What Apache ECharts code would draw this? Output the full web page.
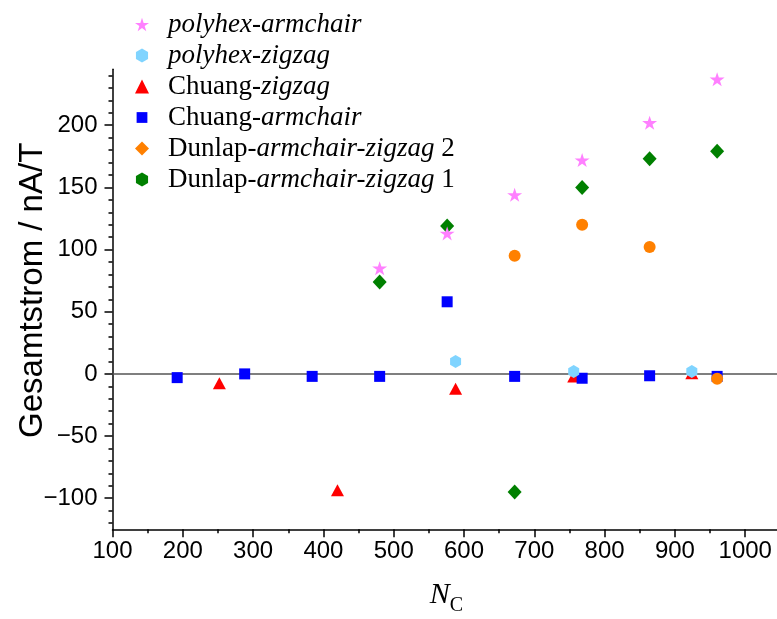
<!DOCTYPE html>
<html>
<head>
<meta charset="utf-8">
<script src="https://cdn.jsdelivr.net/npm/echarts@6/dist/echarts.min.js"></script>
<style>
  html, body { margin: 0; padding: 0; background: #fff; }
  #chart { width: 777px; height: 619px; }
</style>
</head>
<body>
<div id="chart"></div>
<script>
// Total current (nA/T) against number of carbon atoms N_C
const polyhexArmchair = [[480, 85], [576, 113], [672, 144], [768, 172], [864, 202], [960, 237]];
const polyhexZigzag   = [[588, 10], [756, 2], [924, 2]];
const chuangZigzag    = [[252, -7.5], [420, -93.5], [588, -12], [756, -2], [924, 0.5]];
const chuangArmchair  = [[192, -3], [288, 0], [384, -2], [480, -2], [576, 58], [672, -2], [768, -3.5], [864, -1.5], [960, -2]];
const dunlap2         = [[672, 95], [768, 120], [864, 102], [960, -4]];
const dunlap1         = [[480, 74], [576, 119], [672, -95], [768, 150], [864, 173], [960, 179]];

const yMajorTicks = [-100, -50, 0, 50, 100, 150, 200];
const yMinorTicks = [-120, -110, -90, -80, -70, -60, -40, -30, -20, -10, 10, 20, 30, 40,
                     60, 70, 80, 90, 110, 120, 130, 140, 160, 170, 180, 190, 210, 220, 230, 240];

// Marker shapes
const STAR = 'path://M0,-1 L0.2245,-0.309 L0.951,-0.309 L0.363,0.118 L0.588,0.809 L0,0.382 L-0.588,0.809 L-0.363,0.118 L-0.951,-0.309 L-0.2245,-0.309 Z';
const HEX = 'path://M0,-1 L0.866,-0.5 L0.866,0.5 L0,1 L-0.866,0.5 L-0.866,-0.5 Z';
const SMALL_SQUARE = 'path://M-1.3,-1.3 M1.3,1.3 M-1,-1 L1,-1 L1,1 L-1,1 Z';

const C = {
  pink: '#FF80FF', cyan: '#80D4FF', red: '#FF0000',
  blue: '#0000FF', orange: '#FF8000', green: '#008000'
};

const legendRich = {
  i: { fontFamily: 'Liberation Serif', fontStyle: 'italic', fontSize: 27, color: '#000' },
  r: { fontFamily: 'Liberation Serif', fontSize: 27, color: '#000' }
};
const legendLabel = {
  'polyhex-armchair': '{i|polyhex-armchair}',
  'polyhex-zigzag': '{i|polyhex-zigzag}',
  'Chuang-zigzag': '{r|Chuang-}{i|zigzag}',
  'Chuang-armchair': '{r|Chuang-}{i|armchair}',
  'Dunlap-armchair-zigzag 2': '{r|Dunlap-}{i|armchair-zigzag}{r| 2}',
  'Dunlap-armchair-zigzag 1': '{r|Dunlap-}{i|armchair-zigzag}{r| 1}'
};

// Plain numbers with a typographic minus sign
const tickText = v => String(v).replace('-', '\u2212');

const axisBlack = { color: '#000', width: 1.5 };

const chart = echarts.init(document.getElementById('chart'), null, { renderer: 'canvas' });

chart.setOption({
  animation: false,
  backgroundColor: '#fff',
  grid: { left: 112.5, top: 69.3, right: -3.4, bottom: 89.7, containLabel: false, outerBoundsMode: 'none' },
  legend: {
    orient: 'vertical',
    left: 130,
    top: 6,
    itemWidth: 14,
    itemHeight: 14,
    itemGap: 4,
    data: [
      { name: 'polyhex-armchair', icon: STAR },
      { name: 'polyhex-zigzag', icon: HEX },
      { name: 'Chuang-zigzag', icon: 'triangle' },
      { name: 'Chuang-armchair', icon: SMALL_SQUARE },
      { name: 'Dunlap-armchair-zigzag 2', icon: 'diamond' },
      { name: 'Dunlap-armchair-zigzag 1', icon: HEX }
    ],
    formatter: name => legendLabel[name],
    textStyle: { lineHeight: 27, padding: [0, 0, 0, 14], rich: legendRich }
  },
  xAxis: {
    type: 'value',
    min: 100, max: 1050, interval: 100,
    name: '{n|N}{c|C}',
    nameLocation: 'middle',
    nameGap: 51,
    nameMoveOverlap: false,
    nameTextStyle: {
      rich: {
        n: { fontFamily: 'Liberation Serif', fontStyle: 'italic', fontSize: 30, lineHeight: 30, color: '#000' },
        c: { fontFamily: 'Liberation Serif', fontSize: 20, lineHeight: 20, padding: [20, 0, 0, 0], color: '#000' }
      }
    },
    axisLine: { onZero: false, lineStyle: axisBlack },
    axisTick: { length: 8, lineStyle: axisBlack },
    minorTick: { show: true, splitNumber: 2, length: 4, lineStyle: axisBlack },
    axisLabel: { fontFamily: 'Liberation Sans', fontSize: 24, color: '#000', margin: 10, showMaxLabel: false, formatter: tickText },
    splitLine: { show: false }
  },
  yAxis: [
    {
      type: 'value',
      min: -125, max: 245,
      position: 'left',
      name: 'Gesamtstrom / nA/T',
      nameLocation: 'middle',
      nameGap: 63,
      nameMoveOverlap: false,
      nameTextStyle: { fontFamily: 'Liberation Sans', fontSize: 33, color: '#000', padding: [0, 0, 0, 18] },
      axisLine: { onZero: false, lineStyle: axisBlack },
      axisTick: { length: 8, lineStyle: axisBlack, customValues: yMajorTicks },
      axisLabel: { fontFamily: 'Liberation Sans', fontSize: 24, color: '#000', margin: 15, customValues: yMajorTicks, formatter: tickText },
      splitLine: { show: false }
    },
    {
      type: 'value',
      min: -125, max: 245,
      position: 'left',
      offset: 0,
      axisLine: { show: false, onZero: false },
      axisTick: { length: 4, lineStyle: axisBlack, customValues: yMinorTicks },
      axisLabel: { show: false },
      splitLine: { show: false }
    }
  ],
  series: [
    {
      name: 'Chuang-zigzag', type: 'scatter', data: chuangZigzag,
      symbol: 'triangle', symbolSize: [13, 12], itemStyle: { color: C.red, opacity: 1 },
      markLine: {
        silent: true, z: 1, symbol: 'none', label: { show: false },
        lineStyle: { color: '#555', width: 1.5, type: 'solid' },
        data: [{ yAxis: 0 }]
      }
    },
    {
      name: 'Chuang-armchair', type: 'scatter', data: chuangArmchair,
      symbol: 'rect', symbolSize: 11, itemStyle: { color: C.blue, opacity: 1 }
    },
    {
      name: 'Dunlap-armchair-zigzag 1', type: 'scatter', data: dunlap1,
      symbol: 'diamond', symbolSize: [14, 15], itemStyle: { color: C.green, opacity: 1 }
    },
    {
      name: 'Dunlap-armchair-zigzag 2', type: 'scatter', data: dunlap2,
      symbol: 'circle', symbolSize: 12, itemStyle: { color: C.orange, opacity: 1 }
    },
    {
      name: 'polyhex-armchair', type: 'scatter', data: polyhexArmchair,
      symbol: STAR, symbolSize: [15, 14], itemStyle: { color: C.pink, opacity: 1 }
    },
    {
      name: 'polyhex-zigzag', type: 'scatter', data: polyhexZigzag,
      symbol: HEX, symbolSize: [11, 13], itemStyle: { color: C.cyan, opacity: 1 }
    }
  ]
});
</script>
</body>
</html>
